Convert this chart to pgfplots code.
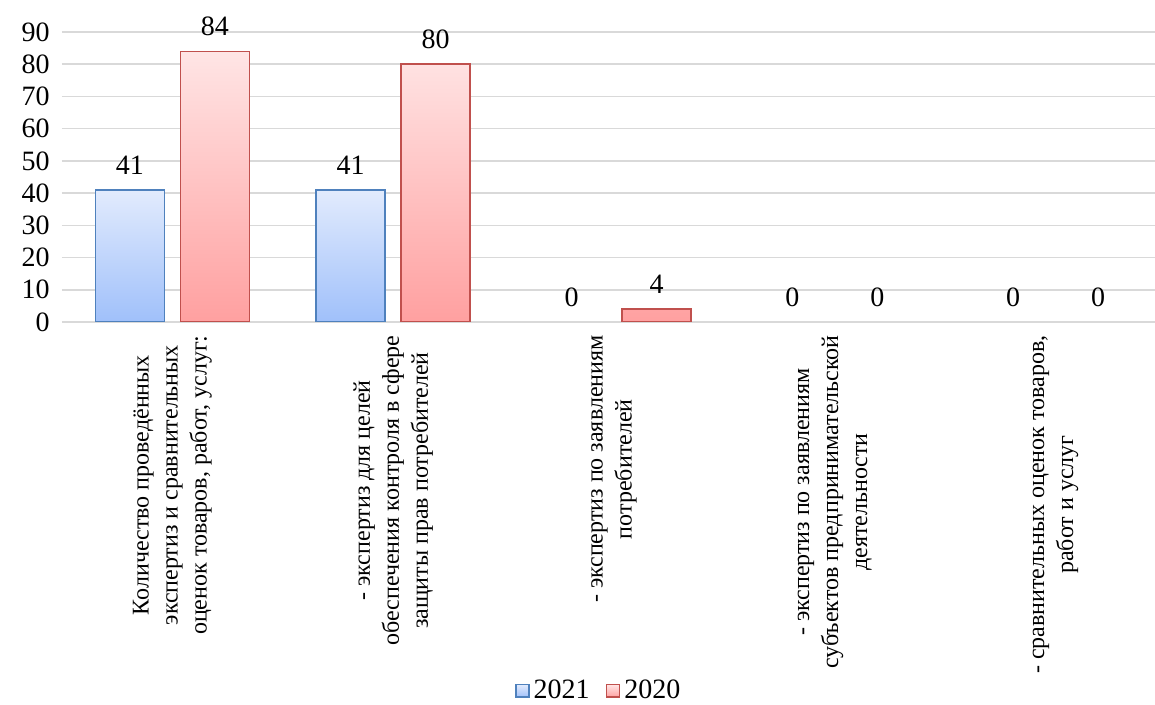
\documentclass[border=0pt]{standalone}
\usepackage{pgfplots}
\pgfplotsset{compat=1.18}
\usepackage{fontspec}
\setmainfont{Liberation Serif}
\definecolor{bluetop}{RGB}{226,235,253}
\definecolor{bluebot}{RGB}{160,192,250}
\definecolor{blueedge}{RGB}{79,129,189}
\definecolor{redtop}{RGB}{255,229,229}
\definecolor{redbot}{RGB}{255,160,160}
\definecolor{rededge}{RGB}{192,80,77}
\definecolor{gridgray}{RGB}{217,217,217}
\begin{document}
\begin{tikzpicture}
\useasboundingbox (0,0) rectangle (577.5pt,352.5pt);
\begin{axis}[
  at={(31pt,191.5pt)}, anchor=south west,
  scale only axis, width=552pt, height=145pt,
  xmin=-0.5, xmax=4.5, ymin=0, ymax=90,
  ytick={0,10,...,90},
  xtick={0,1,2,3,4},
  xticklabels={
    {Количество проведённых\\экспертиз и сравнительных\\оценок товаров, работ, услуг:},
    {- экспертиз для целей\\обеспечения контроля в сфере\\защиты прав потребителей},
    {- экспертиз по заявлениям\\потребителей},
    {- экспертиз по заявлениям\\субъектов предпринимательской\\деятельности},
    {- сравнительных оценок товаров,\\работ и услуг}},
  xticklabel style={rotate=90, anchor=east, align=center, font=\fontsize{12}{14.5}\selectfont, inner sep=6.5pt},
  yticklabel style={font=\fontsize{14}{16}\selectfont, inner sep=2pt, xshift=-4pt},
  /pgf/number format/assume math mode=true,
  axis line style={draw=none},
  major tick length=0pt,
  ymajorgrids, grid style={gridgray, line width=0.8pt},
  ybar, bar width=34.5pt,
  nodes near coords,
  nodes near coords style={font=\fontsize{14}{16}\selectfont, text=black, yshift=4pt},
  legend columns=2,
  legend style={draw=none, at={(axis description cs:0.487,-1.272)}, anchor=center,
    font=\fontsize{14}{16}\selectfont, /tikz/every even column/.append style={column sep=6pt}},
  legend image code/.code={\draw[#1, line width=0.8pt] (0pt,-3.2pt) rectangle (6.5pt,3.2pt);},
]
\addplot[ybar, bar shift=-21.25pt, draw=blueedge, line width=0.8pt, top color=bluetop, bottom color=bluebot]
  coordinates {(0,41) (1,41)};
\addlegendentry{2021}
\addplot[ybar, bar shift=21.25pt, draw=rededge, line width=0.8pt, top color=redtop, bottom color=redbot]
  coordinates {(0,84) (1,80) (2,4)};
\addlegendentry{2020}
\addplot[ybar, bar shift=-21.25pt, draw=none, fill=none, forget plot]
  coordinates {(2,0) (3,0) (4,0)};
\addplot[ybar, bar shift=21.25pt, draw=none, fill=none, forget plot]
  coordinates {(3,0) (4,0)};
\end{axis}
\end{tikzpicture}
\end{document}
